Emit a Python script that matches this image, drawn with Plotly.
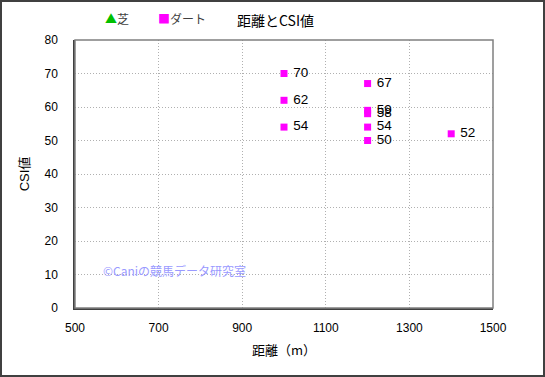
import plotly.graph_objects as go

# data
turf_dist = []
turf_csi = []
dirt_dist = [1000, 1000, 1000, 1200, 1200, 1200, 1200, 1200, 1400]
dirt_csi = [70, 62, 54, 67, 59, 58, 54, 50, 52]
x_ticks = [500, 700, 900, 1100, 1300, 1500]
y_ticks = [0, 10, 20, 30, 40, 50, 60, 70, 80]

W, H = 545, 377
ml, mr, mt, mb = 75, 52, 40, 69
pw, ph = W - ml - mr, H - mt - mb

def px(x):
    return (x - ml) / pw

def py(y):
    return (H - mb - y) / ph

FONT = "Liberation Sans, Arial, Noto Sans CJK JP, sans-serif"
JFONT = "Noto Sans CJK JP, Liberation Sans, sans-serif"

fig = go.Figure()
fig.add_trace(go.Scatter(x=turf_dist, y=turf_csi, mode="markers+text", name="芝",
                         marker=dict(symbol="triangle-up", color="#00c000", size=8),
                         text=[str(v) for v in turf_csi], textposition="middle right"))
fig.add_trace(go.Scatter(x=dirt_dist, y=dirt_csi, mode="markers+text", name="ダート",
                         marker=dict(symbol="square", color="#ff00ff", size=7),
                         text=[" " + str(v) for v in dirt_csi], textposition="middle right",
                         textfont=dict(size=13.5, color="#000000", family=FONT),
                         cliponaxis=False))

grid = dict(showgrid=True, gridcolor="#b0b0b0", griddash="1px,2px", gridwidth=1,
            showline=True, linecolor="#404040", linewidth=1.5, zeroline=False,
            ticks="", tickfont=dict(size=12, color="#000", family=FONT))
fig.update_xaxes(range=[500, 1500], tickvals=x_ticks, ticklabelstandoff=8,
                 title=dict(text="距離（m）", font=dict(size=13, family=JFONT, color="#000"), standoff=12),
                 **grid)
fig.update_yaxes(range=[0, 80], tickvals=y_ticks, ticklabelstandoff=13,
                 title=dict(text="CSI値", font=dict(size=13, family=FONT, color="#000"), standoff=12),
                 **grid)

fig.update_layout(
    width=W, height=H, showlegend=False,
    margin=dict(l=ml, r=mr, t=mt, b=mb),
    paper_bgcolor="white", plot_bgcolor="white",
    font=dict(family=FONT, color="#000"),
)

# plot frame (top/right gray)
fig.add_shape(type="rect", xref="paper", yref="paper", x0=0, x1=1, y0=0, y1=1,
              line=dict(color="#808080", width=1.5), layer="above")
# outer border
fig.add_shape(type="rect", xref="paper", yref="paper",
              x0=px(1), x1=px(W - 1), y0=py(H - 1), y1=py(1),
              line=dict(color="#404040", width=2))

# title
fig.add_annotation(xref="paper", yref="paper", x=px(275), y=py(20), text="距離とCSI値",
                   showarrow=False, font=dict(size=14, family=JFONT, color="#000"),
                   xanchor="center", yanchor="middle")
# legend
fig.add_annotation(xref="paper", yref="paper", x=px(103), y=py(19),
                   text='<span style="color:#00c000">▲</span>芝',
                   showarrow=False, font=dict(size=12, family=JFONT, color="#404040"),
                   xanchor="left", yanchor="middle")
fig.add_annotation(xref="paper", yref="paper", x=px(156), y=py(19),
                   text='<span style="color:#ff00ff">■</span>ダート',
                   showarrow=False, font=dict(size=12, family=JFONT, color="#404040"),
                   xanchor="left", yanchor="middle")
# watermark
fig.add_annotation(xref="paper", yref="paper", x=px(101), y=py(270),
                   text="©Caniの競馬データ研究室",
                   showarrow=False, font=dict(size=12, family=JFONT, color="#9a9aff"),
                   xanchor="left", yanchor="middle")

fig.write_html("out.html", config={"displayModeBar": False},
               post_script="document.body.style.margin='0';")
